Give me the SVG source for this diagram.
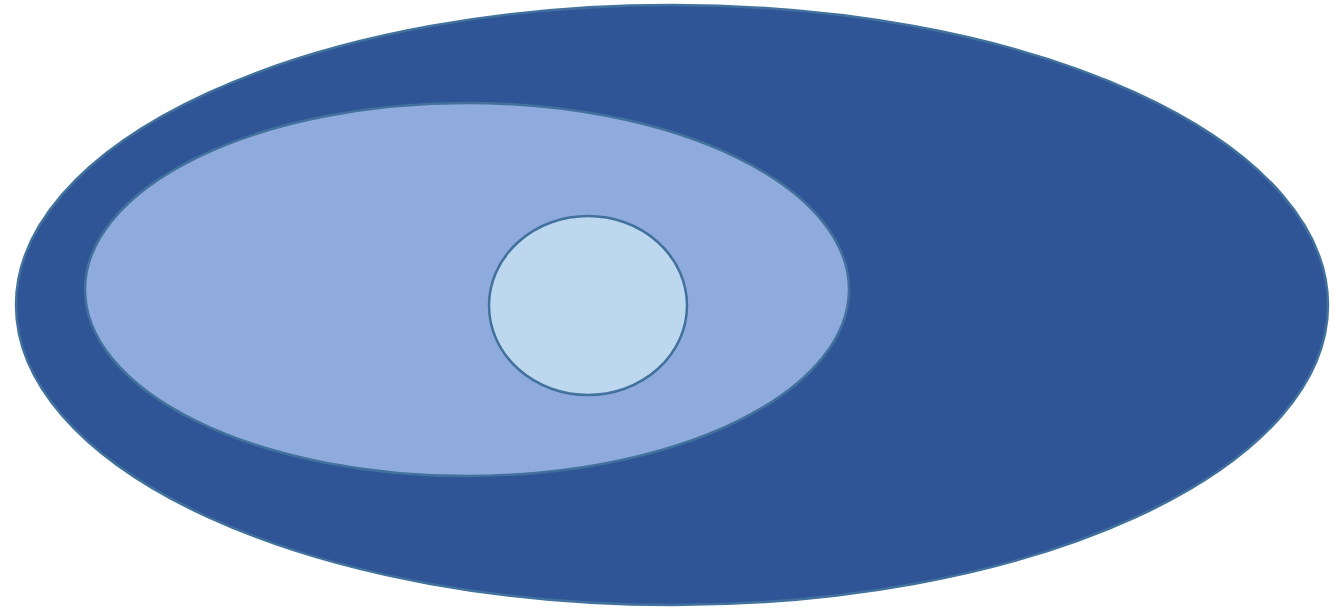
<svg xmlns="http://www.w3.org/2000/svg" width="1335" height="608" viewBox="0 0 1335 608">
<style>
ellipse { stroke: #41719C; stroke-width: 2.5; }
</style>
<rect width="1335" height="608" fill="#FFFFFF"/>
<g id="outer"><ellipse cx="672" cy="305" rx="656" ry="300" fill="#2F5597"/></g>
<g id="middle"><ellipse cx="467" cy="289.5" rx="382" ry="186.5" fill="#8FAADC"/></g>
<g id="inner"><ellipse cx="588" cy="305.5" rx="99" ry="89.5" fill="#BDD7EE"/></g>
<g id="connectors"></g>
</svg>
